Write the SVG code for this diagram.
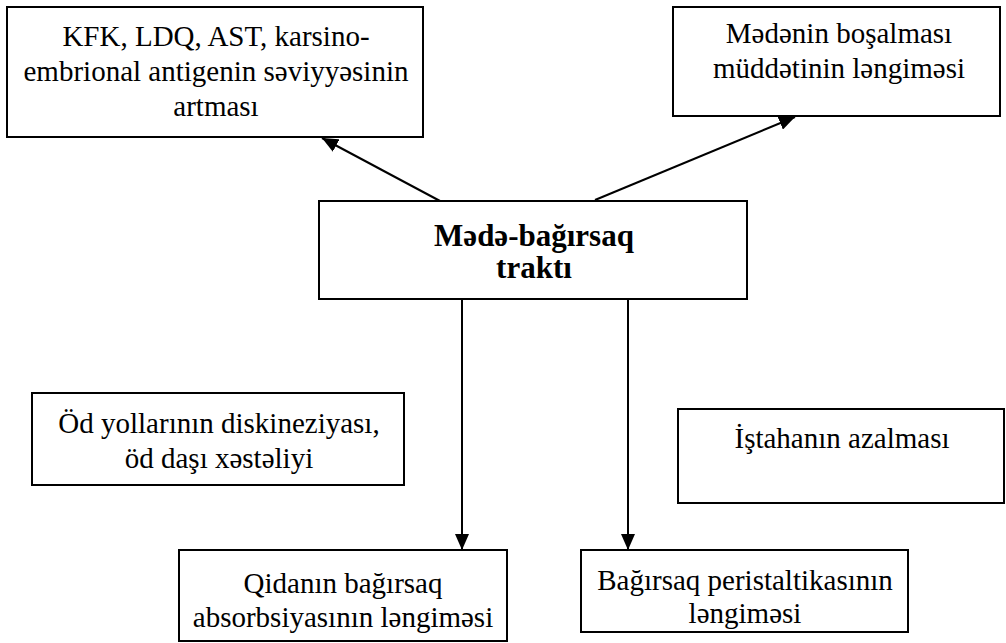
<svg xmlns="http://www.w3.org/2000/svg" width="1006" height="643" viewBox="0 0 1006 643">
  <style>
    .box { fill: #ffffff; stroke: #000000; stroke-width: 2; }
    .lbl { font-family: "Liberation Serif", "Times New Roman", serif; font-size: 29px; fill: #000000; text-anchor: middle; }
    .main { font-weight: bold; font-size: 31px; }
    .edge { stroke: #000000; stroke-width: 2; fill: none; marker-end: url(#arrow); }
  </style>
  <defs>
    <marker id="arrow" markerUnits="userSpaceOnUse" markerWidth="16" markerHeight="14" refX="16" refY="7" orient="auto">
      <path d="M0,0 L16,7 L0,14 Z" fill="#000000"/>
    </marker>
  </defs>

  <rect width="1006" height="643" fill="#ffffff"/>

  <!-- connectors -->
  <g id="connectors">
    <line class="edge" x1="440" y1="201" x2="322" y2="138"/>
    <line class="edge" x1="595" y1="200" x2="795" y2="117"/>
    <line class="edge" x1="462" y1="299" x2="462" y2="550"/>
    <line class="edge" x1="628" y1="299" x2="628" y2="550"/>
  </g>

  <!-- nodes -->
  <g id="node-markers">
    <rect class="box" x="7" y="7" width="416" height="130"/>
    <text class="lbl" x="216" y="46">KFK, LDQ, AST, karsino-</text>
    <text class="lbl" x="216" y="81">embrional antigenin səviyyəsinin</text>
    <text class="lbl" x="216" y="116">artması</text>
  </g>

  <g id="node-gastric-emptying">
    <rect class="box" x="673" y="7" width="327" height="109"/>
    <text class="lbl" x="839" y="43">Mədənin boşalması</text>
    <text class="lbl" x="839" y="78">müddətinin ləngiməsi</text>
  </g>

  <g id="node-gi-tract">
    <rect class="box" x="319" y="201" width="428" height="98"/>
    <text class="lbl main" x="534" y="246">Mədə-bağırsaq</text>
    <text class="lbl main" x="534" y="278">traktı</text>
  </g>

  <g id="node-biliary">
    <rect class="box" x="32" y="393" width="372" height="92"/>
    <text class="lbl" x="219" y="433">Öd yollarının diskineziyası,</text>
    <text class="lbl" x="219" y="468">öd daşı xəstəliyi</text>
  </g>

  <g id="node-appetite">
    <rect class="box" x="678" y="409" width="326" height="94"/>
    <text class="lbl" x="842" y="448">İştahanın azalması</text>
  </g>

  <g id="node-absorption">
    <rect class="box" x="179" y="550" width="328" height="91"/>
    <text class="lbl" x="343" y="593">Qidanın bağırsaq</text>
    <text class="lbl" x="343" y="627">absorbsiyasının ləngiməsi</text>
  </g>

  <g id="node-peristalsis">
    <rect class="box" x="581" y="550" width="327" height="82"/>
    <text class="lbl" x="745" y="590">Bağırsaq peristaltikasının</text>
    <text class="lbl" x="745" y="623">ləngiməsi</text>
  </g>
</svg>
